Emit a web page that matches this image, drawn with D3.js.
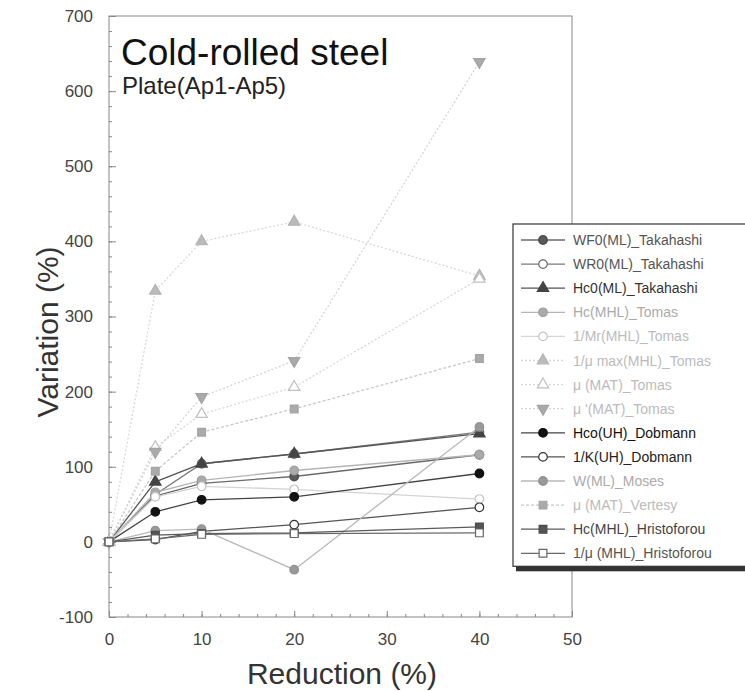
<!DOCTYPE html>
<html>
<head>
<meta charset="utf-8">
<script src="https://cdn.jsdelivr.net/npm/d3@7"></script>
<style>
  body { margin: 0; background: #fff; }
  svg { font-family: "Liberation Sans", Arial, Helvetica, sans-serif; }
</style>
</head>
<body>
<svg id="chart" width="745" height="691"></svg>
<script>
// x values (reduction, %)
var reduction = [0, 5, 10, 20, 40];

// series values (variation, %)
var wf0Takahashi  = [0, 61, 78, 87, 116];
var wr0Takahashi  = [0, 63, 104, 117, 146];
var hc0Takahashi  = [0, 80, 104, 117, 144];
var hcTomas       = [0, 66, 82, 95, 116];
var mrTomas       = [0, 60, 74, 70, 57];
var muMaxTomas    = [0, 334, 400, 426, 354];
var muTomas       = [0, 126, 170, 206, 350];
var muPrimeTomas  = [0, 120, 193, 241, 639];
var hcoDobmann    = [0, 40, 56, 60, 91];
var kDobmann      = [0, 3, 14, 23, 46];
var wMoses        = [0, 15, 17, -37, 153];
var muVertesy     = [0, 94, 146, 177, 244];
var hcHristoforou = [0, 9, 11, 12, 20];
var muHristoforou = [0, 4, 10, 11, 12];

var seriesNames = [
  'WF0(ML)_Takahashi', 'WR0(ML)_Takahashi', 'Hc0(ML)_Takahashi',
  'Hc(MHL)_Tomas', '1/Mr(MHL)_Tomas', '1/\u03bc max(MHL)_Tomas',
  '\u03bc (MAT)_Tomas', '\u03bc \'(MAT)_Tomas', 'Hco(UH)_Dobmann',
  '1/K(UH)_Dobmann', 'W(ML)_Moses', '\u03bc (MAT)_Vertesy',
  'Hc(MHL)_Hristoforou', '1/\u03bc (MHL)_Hristoforou'
];
var seriesValues = [
  wf0Takahashi, wr0Takahashi, hc0Takahashi, hcTomas, mrTomas, muMaxTomas,
  muTomas, muPrimeTomas, hcoDobmann, kDobmann, wMoses, muVertesy,
  hcHristoforou, muHristoforou
];

var xTicks = [0, 10, 20, 30, 40, 50];
var yTicks = [-100, 0, 100, 200, 300, 400, 500, 600, 700];

// marker / line styles, one per series
var styles = [
  { shape: 'circle',   fill: '#5a5a5a', stroke: '#4a4a4a', line: '#6a6a6a', text: '#555', dash: null },
  { shape: 'circle',   fill: '#fff',    stroke: '#6a6a6a', line: '#7a7a7a', text: '#555', dash: null },
  { shape: 'triangle', fill: '#444',    stroke: '#444',    line: '#555',    text: '#333', dash: null },
  { shape: 'circle',   fill: '#aaa',    stroke: '#a0a0a0', line: '#b4b4b4', text: '#aaa', dash: null },
  { shape: 'circle',   fill: '#fff',    stroke: '#c4c4c4', line: '#d4d4d4', text: '#bbb', dash: null },
  { shape: 'triangle', fill: '#bbb',    stroke: '#b4b4b4', line: '#d8d8d8', text: '#bbb', dash: '2,2' },
  { shape: 'triangle', fill: '#fff',    stroke: '#c0c0c0', line: '#d8d8d8', text: '#bbb', dash: '2,2' },
  { shape: 'tridown',  fill: '#aaa',    stroke: '#a4a4a4', line: '#d4d4d4', text: '#bbb', dash: '2,2' },
  { shape: 'circle',   fill: '#111',    stroke: '#111',    line: '#444',    text: '#111', dash: null },
  { shape: 'circle',   fill: '#fff',    stroke: '#333',    line: '#555',    text: '#222', dash: null },
  { shape: 'circle',   fill: '#999',    stroke: '#929292', line: '#b8b8b8', text: '#aaa', dash: null },
  { shape: 'square',   fill: '#aaa',    stroke: '#a4a4a4', line: '#c8c8c8', text: '#bbb', dash: '3,2' },
  { shape: 'square',   fill: '#555',    stroke: '#4a4a4a', line: '#5a5a5a', text: '#444', dash: null },
  { shape: 'square',   fill: '#fff',    stroke: '#666',    line: '#6a6a6a', text: '#555', dash: null }
];

var svg = d3.select('#chart');

var x = d3.scaleLinear().domain([0, 50]).range([109, 572]);
var y = d3.scaleLinear().domain([-100, 700]).range([617, 16]);

function symbolPath (shape) {
  if (shape === 'circle') return d3.symbol().type(d3.symbolCircle).size(58)();
  if (shape === 'square') return d3.symbol().type(d3.symbolSquare).size(60)();
  return d3.symbol().type(d3.symbolTriangle).size(56)();
}

function drawMarker (g, st, px, py) {
  g.append('path')
    .attr('d', symbolPath(st.shape))
    .attr('transform', 'translate(' + px + ',' + py + ')' + (st.shape === 'tridown' ? ' rotate(180)' : ''))
    .attr('fill', st.fill)
    .attr('stroke', st.stroke)
    .attr('stroke-width', 1.2);
}

// frame
svg.append('rect')
  .attr('x', x(0)).attr('y', y(700))
  .attr('width', x(50) - x(0)).attr('height', y(-100) - y(700))
  .attr('fill', 'none').attr('stroke', '#888').attr('stroke-width', 1);

// axes, ticks pointing inward
var plain = function (d) { return String(d); };
var yAxis = d3.axisLeft(y).tickValues(yTicks).tickSize(-7).tickPadding(16).tickFormat(plain);
var yMinor = d3.axisLeft(y).tickValues(d3.range(-100, 701, 20)).tickSize(-3).tickFormat('');
var xAxis = d3.axisBottom(x).tickValues(xTicks).tickSize(-6).tickPadding(16).tickFormat(plain);
var xMinor = d3.axisBottom(x).tickValues(d3.range(0, 51, 2)).tickSize(-3).tickFormat('');

[[yMinor, 'y'], [yAxis, 'y'], [xMinor, 'x'], [xAxis, 'x']].forEach(function (a) {
  var g = svg.append('g')
    .attr('transform', a[1] === 'y' ? 'translate(' + x(0) + ',0)' : 'translate(0,' + y(-100) + ')')
    .call(a[0]);
  g.select('.domain').remove();
  g.selectAll('line').attr('stroke', '#888');
  g.selectAll('text')
    .attr('fill', '#444')
    .style('font-size', '17px')
    .style('font-family', '"Liberation Sans", Arial, sans-serif');
});

// series
var line = d3.line()
  .x(function (d, i) { return x(reduction[i]); })
  .y(function (d) { return y(d); });

var plot = svg.append('g');
seriesValues.forEach(function (vals, s) {
  var st = styles[s];
  plot.append('path')
    .attr('d', line(vals))
    .attr('fill', 'none')
    .attr('stroke', st.line)
    .attr('stroke-width', 1.3)
    .attr('stroke-dasharray', st.dash);
});
seriesValues.forEach(function (vals, s) {
  var st = styles[s];
  var g = plot.append('g');
  vals.forEach(function (v, i) { drawMarker(g, st, x(reduction[i]), y(v)); });
});

// titles
svg.append('text').attr('x', 121).attr('y', 65)
  .style('font-size', '37px').attr('fill', '#111').text('Cold-rolled steel');
svg.append('text').attr('x', 122).attr('y', 94)
  .style('font-size', '24px').attr('fill', '#222').text('Plate(Ap1-Ap5)');

svg.append('text')
  .attr('transform', 'translate(58,' + 332 + ') rotate(-90)')
  .attr('text-anchor', 'middle')
  .style('font-size', '30px').attr('fill', '#333')
  .text('Variation (%)');
svg.append('text')
  .attr('x', 342).attr('y', 684)
  .attr('text-anchor', 'middle')
  .style('font-size', '30px').attr('fill', '#333')
  .text('Reduction (%)');

// legend
var legTop = 224, legStep = 24.1;
var legend = svg.append('g');
legend.append('rect')
  .attr('x', 516).attr('y', legTop + 3)
  .attr('width', 240).attr('height', 13 * legStep + 31)
  .attr('fill', '#333');
legend.append('rect')
  .attr('x', 513).attr('y', legTop)
  .attr('width', 240).attr('height', 13 * legStep + 29)
  .attr('fill', '#fff').attr('stroke', '#333').attr('stroke-width', 1.2);

seriesNames.forEach(function (name, s) {
  var st = styles[s];
  var ly = legTop + 16 + s * legStep;
  var g = legend.append('g');
  g.append('line')
    .attr('x1', 521).attr('x2', 565).attr('y1', ly).attr('y2', ly)
    .attr('stroke', st.line).attr('stroke-width', 1.3)
    .attr('stroke-dasharray', st.dash);
  drawMarker(g, st, 543, ly);
  g.append('text')
    .attr('x', 573).attr('y', ly + 5)
    .style('font-size', '14px')
    .attr('fill', st.text)
    .text(name);
});
</script>
</body>
</html>
